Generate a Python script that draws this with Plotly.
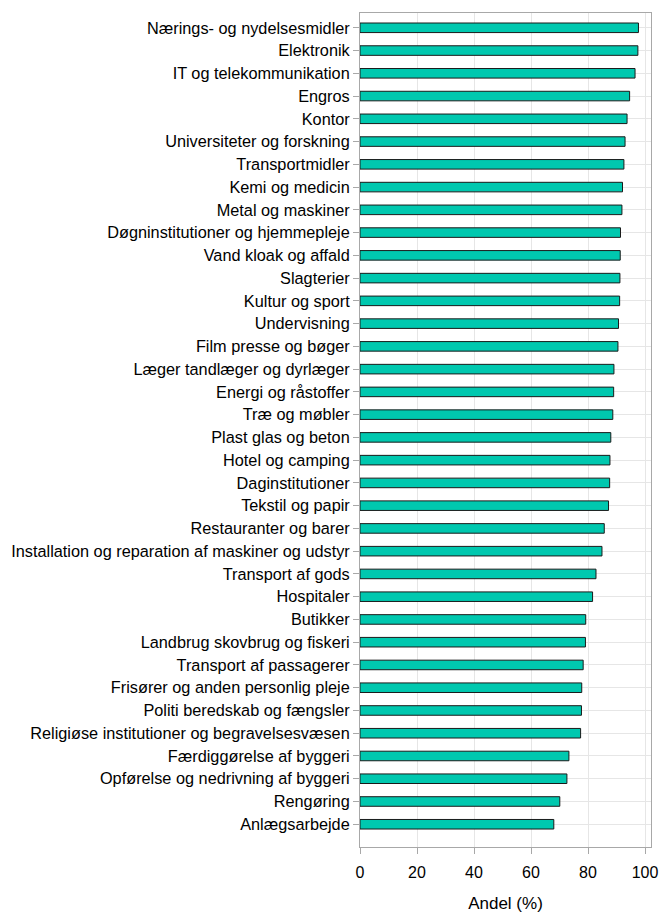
import plotly.graph_objects as go

# categories listed bottom -> top
brancher = [
    "Anlægsarbejde",
    "Rengøring",
    "Opførelse og nedrivning af byggeri",
    "Færdiggørelse af byggeri",
    "Religiøse institutioner og begravelsesvæsen",
    "Politi beredskab og fængsler",
    "Frisører og anden personlig pleje",
    "Transport af passagerer",
    "Landbrug skovbrug og fiskeri",
    "Butikker",
    "Hospitaler",
    "Transport af gods",
    "Installation og reparation af maskiner og udstyr",
    "Restauranter og barer",
    "Tekstil og papir",
    "Daginstitutioner",
    "Hotel og camping",
    "Plast glas og beton",
    "Træ og møbler",
    "Energi og råstoffer",
    "Læger tandlæger og dyrlæger",
    "Film presse og bøger",
    "Undervisning",
    "Kultur og sport",
    "Slagterier",
    "Vand kloak og affald",
    "Døgninstitutioner og hjemmepleje",
    "Metal og maskiner",
    "Kemi og medicin",
    "Transportmidler",
    "Universiteter og forskning",
    "Kontor",
    "Engros",
    "IT og telekommunikation",
    "Elektronik",
    "Nærings- og nydelsesmidler",
]
andel = [
    68.0, 70.1, 72.6, 73.3, 77.4, 77.7, 77.8, 78.3, 79.1, 79.2, 81.6, 82.8,
    84.9, 85.7, 87.2, 87.6, 87.7, 88.0, 88.7, 89.0, 89.1, 90.5, 90.7, 91.1,
    91.2, 91.3, 91.4, 91.9, 92.1, 92.6, 93.0, 93.7, 94.6, 96.5, 97.5, 97.7,
]
x_ticks = [0, 20, 40, 60, 80, 100]

fig = go.Figure(
    go.Bar(
        x=andel,
        y=brancher,
        orientation="h",
        width=0.42,
        marker=dict(color="rgb(0,200,175)", line=dict(color="#1a1a1a", width=1)),
    )
)

axis_line = "#a8a8a8"
grid = "#e6e6e6"

fig.update_layout(
    width=659,
    height=914,
    margin=dict(l=360, r=8, t=13, b=67),
    paper_bgcolor="white",
    plot_bgcolor="white",
    font=dict(family="Liberation Sans, Arial, sans-serif", size=16, color="black"),
    showlegend=False,
)
fig.update_xaxes(
    range=[0, 102.1],
    tickvals=x_ticks,
    ticks="outside",
    ticklen=6,
    tickcolor=axis_line,
    ticklabelstandoff=5,
    ticklabeloverflow="allow",
    tickfont=dict(size=16),
    showline=True,
    linecolor=axis_line,
    mirror=True,
    showgrid=True,
    gridcolor=grid,
    zeroline=False,
    automargin=False,
    title=dict(text="Andel (%)", standoff=16, font=dict(size=17)),
)
fig.update_yaxes(
    type="category",
    range=[-1.0, 35.65],
    ticks="outside",
    ticklen=6,
    tickcolor=axis_line,
    tickfont=dict(size=16.3),
    showline=True,
    linecolor=axis_line,
    mirror=True,
    showgrid=True,
    gridcolor=grid,
    automargin=False,
)

# drop the default 8px page margin so the figure fills the window exactly
fig.write_html(
    "out.html",
    config={"displayModeBar": False},
    post_script="document.body.style.margin='0';document.body.style.overflow='hidden';",
)
